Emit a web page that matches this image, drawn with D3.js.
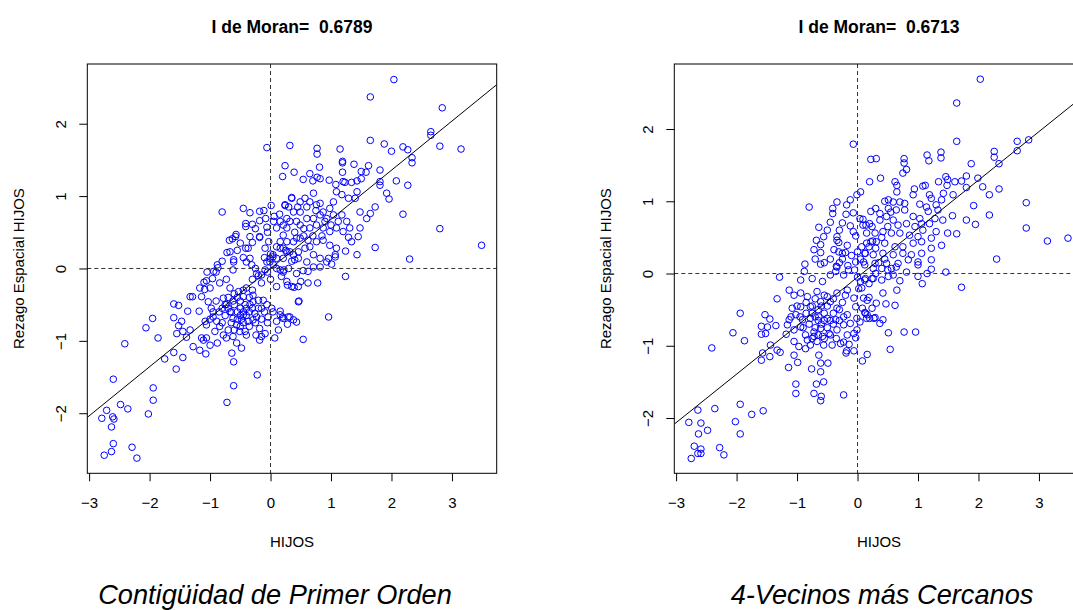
<!DOCTYPE html>
<html>
<head>
<meta charset="utf-8">
<script src="https://cdn.jsdelivr.net/npm/d3@7"></script>
<style>
  html, body { margin: 0; padding: 0; background: #ffffff; }
  svg { display: block; }
  text { white-space: pre; }
</style>
</head>
<body>
<script>
// ---------- DATA ----------
const xTicks = [-3, -2, -1, 0, 1, 2, 3];
const yTicks = [-2, -1, 0, 1, 2];
const xDomain = [-3.03, 3.74];
const yDomainContig = [-2.83, 2.825];
const yDomainKnn = [-2.765, 2.9];
const moranI = [0.6789, 0.6713];
const intercepts = [0, -0.05];
const titles = ["I de Moran=  0.6789", "I de Moran=  0.6713"];
const captions = ["Contigüidad de Primer Orden", "4-Vecinos más Cercanos"];
const xLabel = "HIJOS";
const yLabel = "Rezago Espacial HIJOS";

// Contigüidad de primer orden: [HIJOS, rezago espacial]
const contigPoints = [
[2.04,2.61],[1.65,2.37],[2.84,2.22],[2.65,1.89],[2.65,1.84],[2.80,1.69],[3.15,1.65],[1.65,1.77],[1.88,1.72],[2.00,1.62],[2.19,1.68],[2.27,1.64],[2.34,1.53],[2.34,1.46],[0.32,1.70],[-0.06,1.67],[0.77,1.66],[0.77,1.58],[1.15,1.65],[1.19,1.48],[1.19,1.46],[1.38,1.44],[1.62,1.42],[0.24,1.42],[0.20,1.27],[0.39,1.33],[0.81,1.40],[0.65,1.31],[0.77,1.26],[0.82,1.24],[0.54,1.23],[0.70,1.21],[0.97,1.22],[1.08,1.16],[1.20,1.20],[1.23,1.19],[1.34,1.19],[1.43,1.21],[1.50,1.24],[1.50,1.34],[1.58,1.33],[1.19,1.33],[1.81,1.36],[1.81,1.20],[1.81,1.15],[2.08,1.21],[2.27,1.15],[1.92,1.04],[1.96,0.96],[1.73,0.85],[2.19,0.75],[2.80,0.55],[3.49,0.32],[2.30,0.13],[1.73,0.29],[1.43,0.19],[1.24,0.24],
[-0.80,0.78],[-0.45,0.83],[-0.34,0.77],[-0.18,0.79],[-0.11,0.80],[0.01,0.87],[0.35,0.98],[0.24,0.87],[-0.41,0.62],[-0.41,0.58],[-0.30,0.61],[-0.18,0.66],[-0.08,0.69],[0.06,0.72],[-0.06,0.57],[-0.18,0.44],[-0.68,0.39],[-0.63,0.41],[-0.58,0.44],[-0.57,0.47],
[-0.72,0.22],[-0.67,0.23],[-0.61,0.12],[-0.88,0.05],[-0.41,0.28],[-0.30,0.36],[-0.37,0.28],[-0.34,0.44],[-0.18,0.43],[-0.03,0.37],[-0.09,0.28],[0.04,0.19],[0.16,0.37],[0.21,0.46],[0.27,0.56],[0.10,0.56],[0.16,0.65],[0.32,0.65],[0.38,0.78],[0.43,0.65],[0.16,0.28],[0.27,0.23],[0.38,0.19],[0.43,0.42],[0.46,0.14],[0.10,0.14],[-0.01,0.09],
[0.24,0.88],[0.35,0.97],[0.49,0.92],[0.57,0.97],[0.65,0.92],[0.71,1.04],[0.76,0.88],[0.82,0.90],[0.87,0.78],[0.98,0.83],[1.04,0.92],[1.09,1.06],[1.18,1.02],[1.29,0.97],[1.40,0.97],[1.43,1.06],[1.48,0.78],[1.59,0.69],[1.65,0.76],[1.26,0.65],[1.18,0.74],[1.12,0.65],[1.04,0.74],[0.93,0.69],[0.82,0.74],[0.71,0.69],[0.60,0.69],[0.49,0.78],[0.27,0.69],[0.21,0.60],[0.49,0.60],[0.65,0.56],[0.76,0.60],[0.87,0.56],[0.98,0.51],[1.09,0.56],[1.20,0.51],[1.31,0.56],[1.48,0.56],[1.29,0.43],[1.45,0.44],[1.34,0.37],[1.09,0.28],[0.98,0.32],[0.87,0.39],[0.76,0.37],[0.62,0.39],[0.49,0.42],[0.38,0.37],[0.27,0.37],[0.21,0.28],[0.32,0.23],[0.46,0.23],[0.57,0.28],[0.71,0.19],[0.82,0.14],[0.96,0.14],[1.07,0.19],[0.40,0.12],[0.60,0.09],
[0.47,-0.45],[0.96,-0.67],[0.54,-0.98],[0.16,-0.59],[0.20,-0.67],[0.32,-0.67],[0.28,-0.77],[0.43,-0.74],[0.16,-0.64],[1.24,-0.11],[0.78,-0.20],[0.62,-0.20],[0.50,-0.18],[0.39,-0.26],[0.28,-0.23],[0.21,-0.05],[0.22,-0.02],[0.43,-0.07],[0.54,-0.03],[0.62,-0.04],[0.71,0.02],[0.82,0.02],[0.93,0.09],[1.01,0.06],[1.07,0.16],
[-2.41,-1.04],[-2.60,-1.53],[-1.95,-0.69],[-2.06,-0.82],[-1.86,-0.96],[-1.60,-0.49],[-1.52,-0.51],[-1.37,-0.59],[-1.60,-0.68],[-1.47,-0.73],[-1.52,-0.79],[-1.55,-0.90],[-1.45,-0.87],[-1.33,-0.85],[-1.39,-0.95],[-1.60,-1.16],[-1.45,-1.23],[-1.75,-1.25],[-1.56,-1.39],[-1.94,-1.65],[-1.94,-1.82],[-2.48,-1.88],[-2.36,-1.94],[-2.71,-1.96],[-2.79,-2.07],[-2.61,-2.05],[-2.59,-2.08],[-2.63,-2.19],[-2.02,-2.01],[-2.60,-2.42],[-2.75,-2.58],[-2.63,-2.53],[-2.29,-2.47],[-2.21,-2.62],[-0.72,-1.85],[-0.61,-1.62],[-0.22,-1.47],[-0.64,-1.17],[-0.61,-1.29],
[-1.17,-0.27],[-1.10,-0.19],[-1.06,-0.17],[-1.09,-0.29],[-1.00,-0.27],[-0.94,-0.04],[-0.87,0.01],[-0.96,-0.14],[-0.84,-0.20],[-0.73,-0.15],[-0.62,-0.02],[-0.61,0.09],[-0.40,0.09],[-0.34,0.14],[-0.31,0.05],[-0.23,-0.07],[-0.15,-0.09],[-0.09,-0.02],[-0.06,0.09],[-0.01,0.14],[0.04,0.16],[0.21,0.14],[0.16,-0.02],[0.18,-0.11],[0.27,-0.18],[0.35,-0.25],[0.46,-0.25],[0.46,-0.46],
[-1.14,-0.39],[-1.33,-0.39],[-1.29,-0.39],[-1.18,-0.59],[-1.08,-0.73],[-1.06,-0.78],[-1.14,-0.96],[-1.11,-0.99],[-1.06,-0.96],[-1.07,-1.18],[-1.17,-1.13],[-1.28,-1.08],[-1.03,-0.46],[-0.98,-0.55],[-0.95,-0.67],[-0.89,-0.73],[-0.84,-0.80],[-0.92,-0.87],[-0.88,-1.03],[-1.00,-1.06],
[-0.78,-0.41],[-0.73,-0.50],[-0.67,-0.60],[-0.62,-0.69],[-0.56,-0.78],[-0.51,-0.87],[-0.73,-0.96],[-0.62,-0.94],[-0.78,-0.92],[-0.45,-0.64],[-0.40,-0.55],[-0.34,-0.50],[-0.29,-0.46],[-0.37,-0.73],[-0.29,-0.71],[-0.40,-0.92],[-0.56,-1.03],[-0.48,-1.10],[-0.42,-0.87],[-0.67,-0.27],[-0.53,-0.32],[-0.45,-0.39],[-0.40,-0.27],[-0.29,-0.37],[-0.20,-0.44],[-0.12,-0.44],[-0.15,-0.55],[-0.26,-0.62],[-0.23,-0.67],[-0.18,-0.83],[-0.24,-0.92],[-0.18,-0.99],[-0.15,-0.94],[-0.09,-0.90],[-0.04,-0.67],[0.04,-0.60],[0.10,-0.73],[0.21,-0.69],[0.29,-0.67],[0.38,-0.71],[0.13,-0.85],[0.07,-0.96],[-0.06,-0.50],[0.02,-0.55],
[-0.70,-0.55],[-0.60,-0.50],[-0.50,-0.55],[-0.55,-0.70],[-0.45,-0.75],[-0.65,-0.75],[-0.75,-0.65],[-0.80,-0.55],[-0.85,-0.60],[-0.90,-0.45],[-0.70,-0.40],[-0.60,-0.35],[-0.50,-0.45],[-0.35,-0.60],[-0.30,-0.55],[-0.40,-0.65],[-0.50,-0.65],[-0.70,-0.85],[-0.60,-0.85],[-0.50,-0.80],[-0.35,-0.80],[-0.25,-0.75],[-0.80,-0.75],[-0.95,-0.60],[-1.00,-0.70],[-0.55,-0.40],[-0.45,-0.30],[-0.30,-0.30],[-0.35,-0.40],[-0.20,-0.55],[-0.10,-0.60],[-0.15,-0.70],[-0.05,-0.75],[-0.65,-0.60],[-0.55,-0.60],[-0.45,-0.60],[-0.75,-0.50],[-0.62,-0.45],[-0.42,-0.50],[-0.48,-0.70],
[0.10,0.30],[0.00,0.20],[-0.10,0.15],[0.05,0.05],[0.10,0.00],[-0.05,-0.05],[0.00,-0.15],[0.10,-0.25],[-0.15,-0.20],[-0.20,-0.10],[-0.25,0.00],[-0.30,-0.15],[0.30,0.00],[0.35,0.10],[0.25,0.25],[0.55,0.45],[0.65,0.30],[0.40,0.50],[0.55,0.55],[0.70,0.45],[0.85,0.45],[0.90,0.65],[1.00,0.60],[0.75,0.80],[0.60,0.85],[0.45,0.85],[0.30,0.85],[0.15,0.75],[0.05,0.65],[-0.05,0.50],[-0.25,0.55],[-0.50,0.35],[-0.45,0.15],[-0.55,0.25],[-0.80,0.10],[-0.90,-0.05],[-1.05,-0.05]
];

// 4 vecinos más cercanos: [HIJOS, rezago espacial]
const knnPoints = [
[-0.07,1.79],[0.22,1.58],[0.20,1.27],[-0.80,0.92],[-0.34,0.99],[-0.12,1.02],[-0.18,0.95],[-0.01,1.09],[0.05,1.13],[-0.41,0.90],[-0.41,0.83],[-0.45,0.71],[-0.19,0.82],[-0.07,0.84],[-0.64,0.64],[-0.12,0.66],[-0.07,0.58],[-0.03,0.52],[0.09,0.75],[0.14,0.67],[0.22,0.86],[0.24,0.65],[-0.68,0.46],[-0.61,0.40],[-0.56,0.51],[-0.72,0.33],[-0.61,0.29],[-0.34,0.51],[-0.34,0.46],[-0.31,0.43],[-0.39,0.33],[-0.31,0.30],[-0.25,0.28],[-0.20,0.29],[-0.17,0.39],[-0.87,0.13],[-0.61,0.13],[-0.34,0.09],[-0.16,0.11],[-0.03,0.16],[0.10,0.16],[0.13,0.28],[0.19,0.37],[0.22,0.44],
[2.03,2.69],[1.64,2.36],[1.64,1.83],[2.64,1.83],[2.83,1.85],[2.64,1.70],[2.26,1.69],[2.26,1.61],[2.34,1.52],[1.88,1.52],[1.99,1.32],[1.80,1.35],[1.80,1.19],[2.07,1.20],[2.18,1.09],[2.34,1.17],[2.79,0.98],[2.79,0.63],[3.14,0.45],[3.48,0.49],[1.92,0.94],[2.18,0.81],[1.95,0.68],[1.80,0.74],[1.57,0.80],[1.49,0.56],[1.64,0.55],[2.30,0.20],
[1.15,1.64],[1.18,1.56],[1.38,1.68],[1.38,1.60],[0.77,1.59],[0.77,1.53],[0.81,1.44],[0.75,1.39],[0.31,1.59],[0.38,1.32],
[1.46,1.34],[1.49,1.30],[1.61,1.27],[1.72,1.28],[1.34,1.27],[1.48,1.22],[1.08,1.21],[0.94,1.17],[1.12,1.22],
[0.62,1.27],[0.65,1.22],[0.65,1.13],[0.92,1.09],[1.19,1.09],[1.22,1.04],[1.42,1.11],[1.58,1.09],[1.39,1.02],[1.30,0.95],[1.03,0.96],[1.14,0.92],[1.17,0.86],[1.33,0.88],
[0.51,1.02],[0.59,0.99],[0.70,0.99],[0.78,0.97],[0.51,0.90],[0.64,0.88],[0.78,0.88],[0.37,0.83],[0.04,0.76],
[0.92,0.79],[1.03,0.76],[1.06,0.69],[1.19,0.69],[1.28,0.76],[1.41,0.74],[1.30,0.58],[1.22,0.49],[1.08,0.60],[0.95,0.65],[0.81,0.69],[0.67,0.67],[0.59,0.74],[0.48,0.79],[0.37,0.74],[0.20,0.69],[0.09,0.67],[0.15,0.56],[0.29,0.56],[0.42,0.58],[0.56,0.56],[0.70,0.56],[0.86,0.53],[1.00,0.51],[1.06,0.44],[0.92,0.42],[0.75,0.37],[0.62,0.37],[0.45,0.42],[0.31,0.44],[0.15,0.42],[0.07,0.37],[0.12,0.28],[0.26,0.26],[0.42,0.28],[0.59,0.26],[0.75,0.28],[0.89,0.26],[1.06,0.28],[1.22,0.35],[1.39,0.39],[1.22,0.19],[1.00,0.16],[0.84,0.19],[0.67,0.14],[0.48,0.14],[0.29,0.14],[0.12,0.12],
[1.72,-0.19],[1.46,0.02],[1.22,0.06],[1.15,0.00],[1.00,-0.04],[1.07,-0.14],[0.81,0.02],[1.00,0.12],[0.65,-0.23],[0.70,-0.10],[0.59,-0.02],[0.42,-0.27],[0.31,-0.41],[0.47,-0.42],[0.62,-0.44],[0.19,-0.33],[0.16,-0.37],[0.40,-0.09],[0.26,-0.07],[0.51,-0.04],[0.12,-0.09],[0.07,-0.20],[0.12,-0.54],[0.20,-0.62],[0.29,-0.61],[0.42,-0.64],[0.37,-0.69],[0.04,-0.67],[0.15,-0.62],[0.51,-0.82],[0.77,-0.81],[0.96,-0.81],[0.54,-1.05],[0.16,-1.12],[0.08,-1.21],[0.40,0.07],[0.56,0.07],[0.64,0.09],[0.26,0.07],
[-2.41,-1.03],[-1.94,-0.55],[-2.06,-0.82],[-1.87,-0.93],[-1.33,-0.35],[-1.29,-0.05],[-1.53,-0.57],[-1.45,-0.63],[-1.59,-0.73],[-1.49,-0.74],[-1.59,-0.84],[-1.52,-0.83],[-1.35,-0.72],[-1.44,-0.99],[-1.57,-1.10],[-1.59,-1.20],[-1.45,-1.15],[-1.33,-1.06],[-1.28,-1.09],[-1.18,-0.84],[-1.14,-1.30],
[-2.64,-1.89],[-2.36,-1.87],[-1.94,-1.81],[-1.56,-1.90],[-1.75,-1.95],[-2.79,-2.06],[-2.59,-2.07],[-2.48,-2.17],[-2.63,-2.22],[-2.02,-2.05],[-1.94,-2.22],[-2.70,-2.39],[-2.59,-2.43],[-2.59,-2.49],[-2.64,-2.49],[-2.75,-2.56],[-2.28,-2.41],[-2.21,-2.51],
[-1.02,-1.53],[-1.02,-1.66],[-0.68,-1.53],[-0.72,-1.66],[-0.60,-1.70],[-0.61,-1.76],[-0.56,-1.50],[-0.23,-1.68],
[-0.99,-1.23],[-0.76,-1.32],[-0.61,-1.36],[-0.61,-1.24],[-0.49,-1.24],[-0.64,-1.13],[-1.05,-1.13],[-0.03,-0.89],[-0.19,-1.10],[-0.14,-0.98],[-0.23,-0.95],[-0.06,-1.07],[-0.18,-1.07],
[-0.94,-0.09],[-0.88,0.03],[-0.75,-0.07],[-0.58,-0.11],[-0.45,-0.02],[-0.36,0.03],[-0.23,-0.02],[-1.13,-0.23],[-1.05,-0.30],[-0.94,-0.27],[-0.83,-0.32],[-0.67,-0.25],[-0.50,-0.32],[-0.34,-0.27],[-0.17,-0.23],[-0.06,-0.34],[0.02,-0.21],[-0.03,-0.46],[-0.17,-0.57],[-0.34,-0.48],[-0.45,-0.39],[-0.61,-0.39],[-0.78,-0.46],[-0.94,-0.46],[-1.08,-0.48],[-1.13,-0.64],[-1.02,-0.57],[-0.91,-0.64],[-0.78,-0.62],[-0.64,-0.60],[-0.50,-0.62],[-0.36,-0.64],[-0.23,-0.60],[-0.12,-0.69],[-0.01,-0.62],[0.13,-0.55],[-1.16,-0.71],[-1.05,-0.78],[-0.94,-0.74],[-0.86,-0.85],[-0.72,-0.81],[-0.61,-0.76],[-0.47,-0.83],[-0.34,-0.78],[-0.23,-0.71],[-0.17,-0.85],[-0.06,-0.83],[-1.05,-0.94],[-0.97,-1.01],[-0.86,-1.04],[-0.78,-0.99],[-0.67,-0.94],[-0.56,-0.99],[-0.42,-0.99],[-0.28,-0.97],[-0.83,-0.92],[-0.72,-0.87],[-0.58,-0.87],
[-0.70,-0.60],[-0.60,-0.70],[-0.55,-0.55],[-0.50,-0.75],[-0.45,-0.65],[-0.40,-0.55],[-0.65,-0.50],[-0.75,-0.55],[-0.80,-0.70],[-0.85,-0.55],[-0.70,-0.75],[-0.60,-0.45],[-0.50,-0.45],[-0.40,-0.70],[-0.30,-0.65],[-0.30,-0.50],[-0.55,-0.65],[-0.65,-0.65],[-0.75,-0.45],[-0.90,-0.75],[-0.45,-0.85],[-0.35,-0.90],[-0.55,-0.90],[-0.65,-0.85],[-0.75,-0.90],[-0.25,-0.40],[-0.20,-0.30],[-0.40,-0.35],[-0.55,-0.30],[-0.70,-0.35],[-0.85,-0.40],[-1.00,-0.45],[-0.95,-0.60],[-1.10,-0.60],
[0.05,-0.11],[0.13,-0.07],[0.19,-0.14],[0.24,-0.07],[0.10,-0.34],[0.08,-0.48],[0.24,-0.48],[0.16,-0.57],[0.27,-0.62],[-0.01,-0.78],
[-0.70,0.20],[-0.55,0.15],[-0.45,0.20],[-0.30,0.15],[-0.25,0.20],[-0.10,0.25],[0.00,0.30],[0.05,0.20],[-0.05,0.05],[0.00,-0.05],[-0.15,0.05],[-0.35,0.10],[0.30,0.00],[0.35,0.15],[0.45,0.20],[0.50,0.05],[0.30,0.35],[0.40,0.50],[0.25,0.45],[0.50,0.65],[0.55,0.85],[0.30,0.90],[0.45,1.00],[-0.50,0.60],[-0.30,0.60],[-0.25,0.70]
];

// ---------- LAYOUT ----------
const W = 1073, H = 610;
const plotTop = 64, plotBottom = 473.3;
const panels = [
  { pts: contigPoints, slope: moranI[0], b: intercepts[0], left: 87.3, right: 496.7, yDom: yDomainContig, title: titles[0], caption: captions[0], capX: 275, id: "p0" },
  { pts: knnPoints,    slope: moranI[1], b: intercepts[1], left: 674.3, right: 1083.7, yDom: yDomainKnn, title: titles[1], caption: captions[1], capX: 882, id: "p1" }
];
const FONT = "'Liberation Sans', Arial, Helvetica, sans-serif";
const tickFmt = d3.format("~g");

const svg = d3.select("body").append("svg")
  .attr("width", W).attr("height", H)
  .attr("viewBox", `0 0 ${W} ${H}`);
svg.append("rect").attr("width", W).attr("height", H).attr("fill", "#ffffff");

const defs = svg.append("defs");

panels.forEach(p => {
  const x = d3.scaleLinear().domain(xDomain).range([p.left, p.right]);
  const y = d3.scaleLinear().domain(p.yDom).range([plotBottom, plotTop]);
  const cx = (p.left + p.right) / 2;
  const cy = (plotTop + plotBottom) / 2;

  defs.append("clipPath").attr("id", "clip-" + p.id)
    .append("rect").attr("x", p.left).attr("y", plotTop)
    .attr("width", p.right - p.left).attr("height", plotBottom - plotTop);

  const g = svg.append("g");

  // points
  g.append("g").attr("clip-path", `url(#clip-${p.id})`)
    .selectAll("circle").data(p.pts).join("circle")
    .attr("cx", d => x(d[0])).attr("cy", d => y(d[1]))
    .attr("r", 3.3)
    .attr("fill", "none").attr("stroke", "#0000ff").attr("stroke-width", 1);

  // regression line
  g.append("line").attr("clip-path", `url(#clip-${p.id})`)
    .attr("x1", x(xDomain[0])).attr("y1", y(p.b + p.slope * xDomain[0]))
    .attr("x2", x(xDomain[1])).attr("y2", y(p.b + p.slope * xDomain[1]))
    .attr("stroke", "#000").attr("stroke-width", 1);

  // dashed mean lines
  g.append("line")
    .attr("x1", x(0)).attr("x2", x(0)).attr("y1", plotTop).attr("y2", plotBottom)
    .attr("stroke", "#333").attr("stroke-width", 1).attr("stroke-dasharray", "4,3");
  g.append("line")
    .attr("x1", p.left).attr("x2", p.right).attr("y1", y(0)).attr("y2", y(0))
    .attr("stroke", "#333").attr("stroke-width", 1).attr("stroke-dasharray", "4,3");

  // box
  g.append("rect").attr("x", p.left).attr("y", plotTop)
    .attr("width", p.right - p.left).attr("height", plotBottom - plotTop)
    .attr("fill", "none").attr("stroke", "#000").attr("stroke-width", 1);

  // x axis
  const xa = g.append("g").attr("transform", `translate(0,${plotBottom})`)
    .call(d3.axisBottom(x).tickValues(xTicks).tickFormat(tickFmt).tickSize(8).tickSizeOuter(0));
  xa.select(".domain").remove();
  xa.selectAll("line").attr("stroke", "#000");
  xa.selectAll("text").attr("y", 34.6).attr("dy", 0)
    .attr("font-family", FONT).attr("font-size", 15).attr("fill", "#000");

  // y axis
  const ya = g.append("g").attr("transform", `translate(${p.left},0)`)
    .call(d3.axisLeft(y).tickValues(yTicks).tickFormat(tickFmt).tickSize(8).tickSizeOuter(0));
  ya.select(".domain").remove();
  ya.selectAll("line").attr("stroke", "#000");
  ya.selectAll("text")
    .attr("transform", "rotate(-90)")
    .attr("x", 0).attr("y", -21.8).attr("dy", 0)
    .attr("text-anchor", "middle")
    .attr("font-family", FONT).attr("font-size", 15).attr("fill", "#000");

  // axis labels
  g.append("text").attr("x", cx).attr("y", 547)
    .attr("text-anchor", "middle").attr("font-family", FONT).attr("font-size", 15)
    .text(xLabel);
  g.append("text")
    .attr("transform", `translate(${p.left - 63.3},${cy}) rotate(-90)`)
    .attr("text-anchor", "middle").attr("font-family", FONT).attr("font-size", 15)
    .text(yLabel);

  // title
  g.append("text").attr("x", cx).attr("y", 32.5)
    .attr("text-anchor", "middle").attr("font-family", FONT)
    .attr("font-size", 17.5).attr("font-weight", "bold")
    .attr("xml:space", "preserve")
    .text(p.title);

  // caption
  g.append("text").attr("x", p.capX).attr("y", 604)
    .attr("text-anchor", "middle").attr("font-family", FONT)
    .attr("font-size", 27.2).attr("font-style", "italic")
    .text(p.caption);
});
</script>
</body>
</html>
